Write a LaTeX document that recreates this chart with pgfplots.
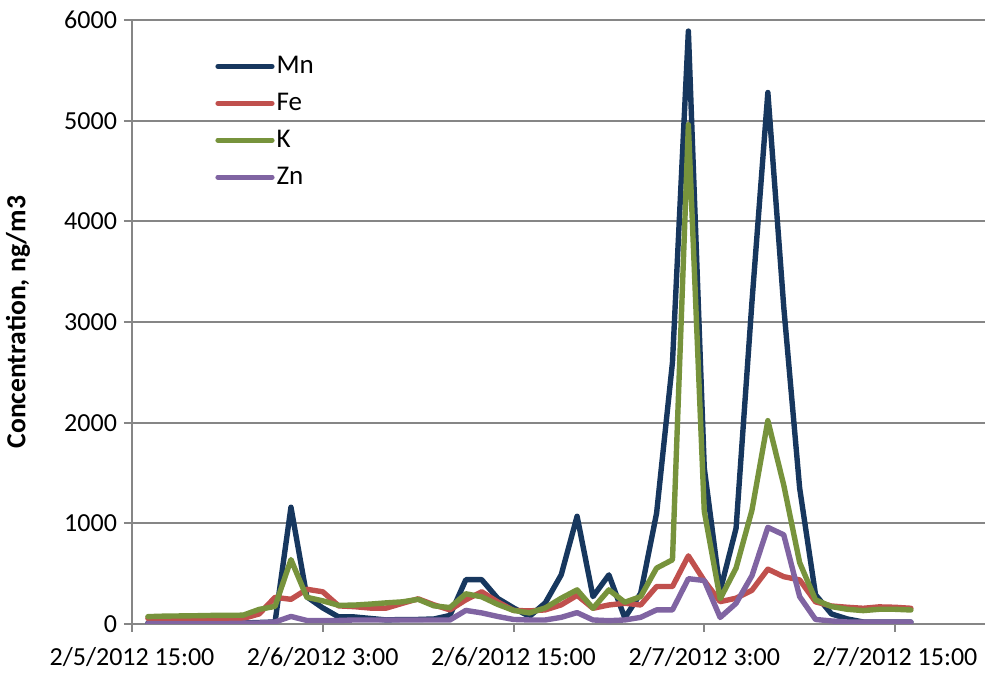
\documentclass[border=0pt]{standalone}
\usepackage{fontspec}
\setmainfont{Carlito}
\usepackage{pgfplots}
\pgfplotsset{compat=1.18}
\usepackage{pgfplotstable}
\definecolor{mn}{RGB}{23,55,94}
\definecolor{fe}{RGB}{192,80,77}
\definecolor{kk}{RGB}{119,147,60}
\definecolor{zn}{RGB}{128,100,162}
\definecolor{gridc}{RGB}{134,134,134}

\pgfplotstableread{
h Mn Fe K Zn
1 10 55 73 5
2 10 48 78 5
3 10 48 80 5
4 10 50 82 5
5 10 52 85 5
6 10 52 85 5
7 10 55 88 8
8 15 100 145 10
9 20 265 175 20
10 1160 245 640 75
11 270 345 265 35
12 160 320 230 35
13 70 180 185 35
14 70 172 188 40
15 55 158 198 40
16 40 158 210 40
17 45 205 220 40
18 45 250 245 40
19 50 190 180 40
20 85 140 163 40
21 440 240 300 135
22 440 320 270 110
23 255 220 195 75
24 160 135 135 45
25 75 130 110 40
26 210 140 160 40
27 488 190 256 66
28 1070 285 339 113
29 272 156 156 40
30 488 189 339 33
31 60 206 216 40
32 305 189 272 66
33 1100 372 555 140
34 2600 372 638 140
35 5890 677 4960 450
36 1550 430 1120 432
37 330 222 250 65
38 950 256 555 205
39 3200 335 1130 480
40 5280 545 2020 960
41 3150 470 1380 886
42 1350 438 610 272
43 290 220 240 45
44 100 179 173 30
45 50 166 146 20
46 20 156 133 18
47 20 170 146 18
48 20 166 146 18
49 20 156 139 18
}\data

\begin{document}
\begin{tikzpicture}
\begin{axis}[
  at={(0,0)}, anchor=south west,
  scale only axis, width=426.5pt, height=302pt,
  xmin=0, xmax=53.66, ymin=0, ymax=6000,
  xtick={0,12,24,36,48},
  xticklabels={2/5/2012 15:00, 2/6/2012 3:00, 2/6/2012 15:00, 2/7/2012 3:00, 2/7/2012 15:00},
  ytick={0,1000,...,6000},
  /pgf/number format/1000 sep={},
  /pgf/number format/assume math mode=true,
  ymajorgrids, grid style={gridc, line width=1pt},
  axis x line*=bottom, axis y line*=left,
  axis line style={gridc, line width=1pt},
  tick style={gridc, line width=1pt}, tick align=outside, major tick length=4pt,
  ticklabel style={font=\fontsize{13}{15}\selectfont, black},
  xticklabel style={yshift=-4pt},
  ylabel={\bfseries Concentration, ng/m3},
  ylabel style={font=\fontsize{13.8}{16}\selectfont, at={(axis description cs:-0.1336,0.5)}, anchor=center},
  legend style={at={(axis description cs:0.0973,0.944)}, anchor=north west, draw=none, fill=none,
    font=\fontsize{13.5}{16}\selectfont, row sep=6.3pt, inner sep=0pt,
    nodes={inner sep=1pt}},
  legend cell align=left,
  legend image code/.code={\draw[#1, line width=2.6pt, line cap=round] (0pt,0pt) -- (27pt,0pt);},
  every axis plot/.append style={line width=2.7pt, line join=round, line cap=round, mark=none},
]
\addplot[mn] table[x=h, y=Mn] {\data};
\addlegendentry{Mn}
\addplot[fe] table[x=h, y=Fe] {\data};
\addlegendentry{Fe}
\addplot[kk] table[x=h, y=K] {\data};
\addlegendentry{K}
\addplot[zn] table[x=h, y=Zn] {\data};
\addlegendentry{Zn}
\end{axis}
\pgfresetboundingbox
\path (-66pt,-24.5pt) rectangle (427pt,312pt);
\end{tikzpicture}
\end{document}
